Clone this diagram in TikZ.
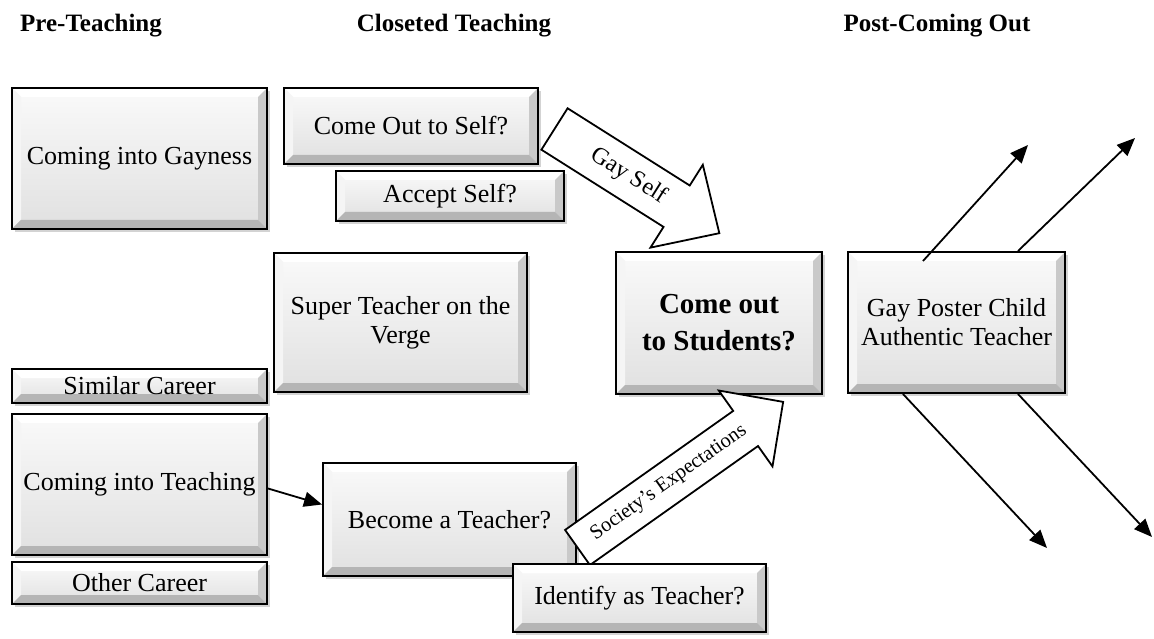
\documentclass[tikz,border=0pt]{standalone}
\usepackage{fontspec}
\setmainfont{Liberation Serif}
\usetikzlibrary{positioning, shadows, arrows.meta, calc}

\newcommand{\boxfont}{\fontsize{26}{29}\selectfont}

\tikzset{
    header/.style={font=\fontsize{25}{30}\selectfont\bfseries, inner sep=0pt},
    bevelbox/.style={draw=black, line width=2pt, align=center, font=\boxfont, inner sep=2pt,
        top color=gray!4, bottom color=gray!24,
        drop shadow={shadow xshift=2.5pt, shadow yshift=-3pt, opacity=.35},
        path picture={
            \fill[white] (path picture bounding box.north west) -- (path picture bounding box.north east)
                -- ([shift={(-9pt,-9pt)}]path picture bounding box.north east)
                -- ([shift={(9pt,-9pt)}]path picture bounding box.north west) -- cycle;
            \fill[gray!8] (path picture bounding box.north west) -- (path picture bounding box.south west)
                -- ([shift={(9pt,9pt)}]path picture bounding box.south west)
                -- ([shift={(9pt,-9pt)}]path picture bounding box.north west) -- cycle;
            \fill[gray!42] (path picture bounding box.north east) -- (path picture bounding box.south east)
                -- ([shift={(-9pt,9pt)}]path picture bounding box.south east)
                -- ([shift={(-9pt,-9pt)}]path picture bounding box.north east) -- cycle;
            \fill[gray!58] (path picture bounding box.south west) -- (path picture bounding box.south east)
                -- ([shift={(-9pt,9pt)}]path picture bounding box.south east)
                -- ([shift={(9pt,9pt)}]path picture bounding box.south west) -- cycle;
        }},
    blockarrow/.style={draw=black, line width=1.8pt, fill=white, line join=miter},
    arrowtext/.style={inner sep=0pt},
    thinarrow/.style={->, line width=1.8pt}
}

\begin{document}
\begin{tikzpicture}[x=1pt, y=-1pt, >={Triangle[length=18pt,width=15pt]}]
    \useasboundingbox (0,0) rectangle (1154,639);

    % Headers
    \node (hPre) at (91,26) [header] {Pre-Teaching};
    \node (hCloset) at (454,26) [header] {Closeted Teaching};
    \node (hPost) at (937,26) [header] {Post-Coming Out};

    % Boxes
    \node (gayIn) at (139.5,158.5) [bevelbox, minimum width=255pt, minimum height=141pt] {Coming into Gayness};
    \node (selfOut) at (411,126) [bevelbox, minimum width=254pt, minimum height=76pt] {Come Out to Self?};
    \node (acceptSelf) at (450,196) [bevelbox, minimum width=228pt, minimum height=50pt] {Accept Self?};
    \node (superTeacher) at (400.5,322.5) [bevelbox, minimum width=253pt, minimum height=139pt] {Super Teacher on the\\Verge};
    \node (teachingIn) at (139.5,484.5) [bevelbox, minimum width=255pt, minimum height=141pt] {Coming into Teaching};
    \node (similarCareer) [above=9pt of teachingIn, bevelbox, minimum width=255pt, minimum height=34pt] {Similar Career};
    \node (otherCareer) [below=5pt of teachingIn, bevelbox, minimum width=255pt, minimum height=42pt] {Other Career};
    \node (becomeTeacher) at (449.5,519.5) [bevelbox, minimum width=253pt, minimum height=113pt] {Become a Teacher?};
    \node (studentsOut) at (719,323) [bevelbox, minimum width=206pt, minimum height=142pt, font=\fontsize{29}{37}\selectfont\bfseries] {Come out\\to Students?};
    \node (gayPoster) at (956.5,322.5) [bevelbox, minimum width=217pt, minimum height=141pt] {Gay Poster Child\\Authentic Teacher};

    % Block arrows
    \begin{scope}[shift={(554.5,129)}, rotate=-32.3]
        \draw[blockarrow] (0,-24.5) -- (144.5,-24.5) -- (144.5,-49) -- (195,0) -- (144.5,49) -- (144.5,24.5) -- (0,24.5) -- cycle;
        \node (gaySelf) at (88,0) [arrowtext, rotate=-32.3, font=\fontsize{24}{27}\selectfont] {Gay Self};
    \end{scope}
    \begin{scope}[shift={(577.5,547.5)}, rotate=35.3]
        \draw[blockarrow] (0,-21.5) -- (206,-21.5) -- (206,-46.5) -- (252,0) -- (206,46.5) -- (206,21.5) -- (0,21.5) -- cycle;
        \node (society) at (112,0) [arrowtext, rotate=35.3, font=\fontsize{20.5}{23}\selectfont] {Society’s Expectations};
    \end{scope}

    \node (identifyTeacher) at (639.5,598) [bevelbox, minimum width=253pt, minimum height=68pt] {Identify as Teacher?};

    % Arrows
    \coordinate (upA) at (1028,145);
    \coordinate (upB) at (1135,138);
    \coordinate (downA) at (1047,548);
    \coordinate (downB) at (1152,537);
    \draw[thinarrow] ([yshift=-4pt]teachingIn.east) -- ([yshift=15pt]becomeTeacher.west);
    \draw[thinarrow] ([shift={(76,10)}]gayPoster.north west) -- (upA);
    \draw[thinarrow] ([xshift=171pt]gayPoster.north west) -- (upB);
    \draw[thinarrow] ([xshift=56pt]gayPoster.south west) -- (downA);
    \draw[thinarrow] ([xshift=171pt]gayPoster.south west) -- (downB);
\end{tikzpicture}
\end{document}
